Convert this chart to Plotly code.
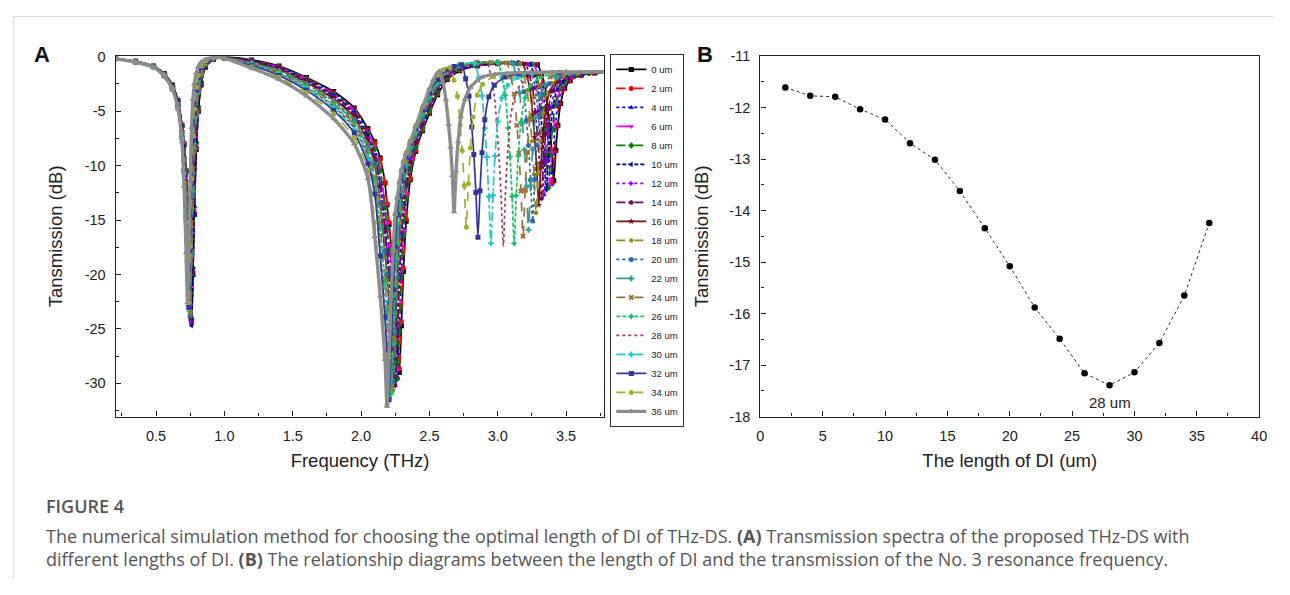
import plotly.graph_objects as go

# ---------------- data ----------------
LENGTHS_UM = [0, 2, 4, 6, 8, 10, 12, 14, 16, 18, 20, 22, 24, 26, 28, 30, 32, 34, 36]

# shared frequency grid (THz) for the first two resonances
F_LOW = [0.20, 0.35, 0.48, 0.56, 0.62, 0.66,
         0.69, 0.705, 0.72, 0.73, 0.74, 0.75, 0.76, 0.77, 0.78, 0.795, 0.81, 0.83, 0.86, 0.92, 1.00,
         1.20, 1.40, 1.60, 1.80, 1.95, 2.05,
         2.10, 2.14, 2.175, 2.19, 2.205, 2.22, 2.235, 2.25, 2.265, 2.28, 2.295, 2.31, 2.33, 2.36, 2.40, 2.45, 2.50]

T_LOW_00 = [-0.15, -0.42, -0.85, -1.55, -2.6, -4.0,
            -6.3, -8.0, -10.5, -12.5, -15.5, -19.5, -24.3, -20.0, -14.5, -8.5, -5.0, -2.6, -1.0, -0.25, -0.05,
            -0.30, -0.85, -1.90, -3.20, -4.70, -6.60,
            -7.8, -9.3, -11.6, -13.6, -15.4, -17.4, -19.4, -22.0, -25.2, -29.0, -24.7, -19.7, -15.1, -11.3, -8.7, -6.8, -5.2]
T_LOW_02 = [-0.15, -0.42, -0.85, -1.56, -2.62, -4.02,
            -6.3, -8.0, -10.4, -12.4, -15.4, -19.3, -24.0, -19.7, -14.3, -8.4, -4.9, -2.5, -1.0, -0.25, -0.06,
            -0.32, -0.89, -1.95, -3.28, -4.80, -6.74,
            -7.9, -9.4, -11.6, -13.5, -15.2, -17.2, -19.2, -21.7, -24.9, -28.6, -24.3, -19.4, -14.9, -11.2, -8.6, -6.7, -5.1]
T_LOW_04 = [-0.15, -0.42, -0.86, -1.56, -2.62, -4.03,
            -6.35, -8.1, -10.6, -12.6, -15.7, -19.8, -24.6, -20.1, -14.4, -8.3, -4.8, -2.5, -0.95, -0.24, -0.07,
            -0.35, -0.93, -2.00, -3.35, -4.90, -6.88,
            -8.4, -10.4, -13.8, -15.6, -17.6, -19.7, -22.3, -25.6, -29.4, -25.0, -20.0, -16.3, -12.9, -10.3, -8.2, -6.5, -4.9]
T_LOW_06 = [-0.15, -0.43, -0.86, -1.57, -2.63, -4.05,
            -6.4, -8.1, -10.6, -12.5, -15.6, -19.6, -24.4, -19.8, -14.1, -8.1, -4.7, -2.4, -0.9, -0.23, -0.07,
            -0.37, -0.96, -2.05, -3.43, -5.00, -7.01,
            -8.3, -10.3, -13.6, -15.3, -17.3, -19.3, -21.9, -25.1, -28.8, -24.5, -19.6, -16.0, -12.7, -10.1, -8.1, -6.4, -4.8]
T_LOW_08 = [-0.16, -0.43, -0.87, -1.58, -2.65, -4.08,
            -6.45, -8.2, -10.6, -12.5, -15.5, -19.4, -24.1, -19.4, -13.8, -7.9, -4.6, -2.3, -0.9, -0.22, -0.08,
            -0.39, -1.00, -2.10, -3.50, -5.10, -7.15,
            -8.5, -10.5, -13.9, -15.7, -17.8, -19.8, -22.5, -25.8, -29.6, -25.2, -20.1, -16.4, -13.0, -10.4, -8.3, -6.5, -4.9]
T_LOW_10 = [-0.16, -0.43, -0.87, -1.59, -2.67, -4.1,
            -6.5, -8.3, -10.8, -12.8, -15.9, -19.9, -24.7, -19.6, -13.6, -7.7, -4.4, -2.2, -0.85, -0.21, -0.08,
            -0.41, -1.04, -2.16, -3.58, -5.20, -7.29,
            -9.1, -11.7, -15.8, -17.9, -20.0, -22.7, -26.0, -29.9, -25.4, -20.3, -16.6, -13.8, -11.7, -9.6, -7.8, -6.1, -4.5]
T_LOW_12 = [-0.16, -0.44, -0.88, -1.62, -2.75, -4.3,
            -6.8, -9.2, -12.3, -15.3, -19.3, -24.2, -19.0, -13.5, -9.5, -6.0, -3.6, -1.9, -0.8, -0.2, -0.08,
            -0.44, -1.09, -2.22, -3.68, -5.33, -7.47,
            -9.1, -11.6, -15.5, -17.6, -19.6, -22.3, -25.5, -29.3, -24.9, -19.9, -16.3, -13.5, -11.4, -9.4, -7.6, -6.0, -4.4]
T_LOW_14 = [-0.16, -0.44, -0.88, -1.63, -2.76, -4.32,
            -6.85, -9.25, -12.3, -15.2, -19.1, -23.9, -18.8, -13.2, -9.2, -5.8, -3.5, -1.8, -0.75, -0.19, -0.09,
            -0.47, -1.14, -2.29, -3.78, -5.46, -7.66,
            -9.3, -11.9, -16.0, -18.1, -20.2, -23.0, -26.3, -30.2, -25.7, -20.5, -16.8, -13.9, -11.8, -9.7, -7.9, -6.2, -4.5]
T_LOW_16 = [-0.16, -0.45, -0.89, -1.64, -2.78, -4.35,
            -6.9, -9.3, -12.4, -15.4, -19.3, -24.0, -18.7, -13.0, -9.0, -5.6, -3.4, -1.75, -0.72, -0.18, -0.09,
            -0.50, -1.19, -2.36, -3.88, -5.59, -7.84,
            -9.9, -13.5, -18.0, -20.1, -22.8, -26.1, -30.0, -25.5, -20.4, -16.7, -13.8, -12.2, -10.4, -8.7, -7.2, -5.6, -4.0]
T_LOW_18 = [-0.17, -0.45, -0.89, -1.65, -2.8, -4.38,
            -6.95, -9.35, -12.4, -15.3, -19.1, -23.6, -18.4, -12.8, -8.8, -5.5, -3.3, -1.7, -0.7, -0.17, -0.1,
            -0.53, -1.24, -2.43, -3.98, -5.72, -8.03,
            -10.1, -13.8, -18.4, -20.5, -23.3, -26.6, -30.6, -26.0, -20.8, -17.0, -14.1, -12.4, -10.6, -8.9, -7.3, -5.7, -4.1]
T_LOW_20 = [-0.17, -0.45, -0.9, -1.66, -2.82, -4.4,
            -7.0, -9.4, -12.5, -15.5, -19.3, -23.8, -18.3, -12.6, -8.6, -5.3, -3.2, -1.65, -0.68, -0.16, -0.1,
            -0.56, -1.29, -2.50, -4.08, -5.86, -8.21,
            -9.8, -13.4, -17.9, -20.0, -22.6, -25.9, -29.8, -25.3, -20.3, -16.5, -13.7, -12.1, -10.3, -8.6, -7.2, -5.6, -4.0]
T_LOW_22 = [-0.17, -0.46, -0.9, -1.67, -2.84, -4.42,
            -7.05, -9.5, -12.6, -15.5, -19.2, -23.4, -18.0, -12.4, -8.4, -5.1, -3.0, -1.55, -0.64, -0.15, -0.11,
            -0.60, -1.35, -2.58, -4.20, -6.02, -8.44,
            -11.2, -15.7, -20.6, -23.4, -26.8, -30.8, -26.2, -20.9, -17.1, -14.2, -12.5, -11.1, -9.9, -8.3, -6.9, -5.2, -3.7]
T_LOW_24 = [-0.17, -0.46, -0.91, -1.68, -2.86, -4.45,
            -7.1, -9.55, -12.7, -15.7, -19.4, -23.5, -17.9, -12.2, -8.2, -5.0, -2.9, -1.5, -0.62, -0.14, -0.11,
            -0.64, -1.41, -2.67, -4.33, -6.19, -8.67,
            -11.1, -15.5, -20.4, -23.1, -26.4, -30.4, -25.8, -20.7, -16.9, -14.0, -12.3, -10.9, -9.7, -8.2, -6.8, -5.2, -3.6]
T_LOW_26 = [-0.18, -0.47, -0.92, -1.7, -2.9, -4.55,
            -7.3, -10.3, -14.6, -18.8, -23.2, -18.2, -12.3, -8.3, -5.7, -3.45, -2.1, -1.15, -0.52, -0.11, -0.12,
            -0.68, -1.48, -2.75, -4.45, -6.35, -8.90,
            -11.3, -15.8, -20.8, -23.6, -27.0, -31.0, -26.4, -21.1, -17.2, -14.3, -12.6, -11.2, -10.0, -8.4, -7.0, -5.3, -3.7]
T_LOW_28 = [-0.18, -0.47, -0.92, -1.71, -2.92, -4.58,
            -7.35, -10.35, -14.7, -18.9, -23.3, -18.1, -12.1, -8.1, -5.6, -3.4, -2.05, -1.1, -0.5, -0.1, -0.13,
            -0.72, -1.55, -2.85, -4.60, -6.55, -9.18,
            -12.3, -17.8, -23.3, -26.7, -30.7, -26.1, -20.9, -17.0, -14.1, -12.4, -11.1, -10.1, -8.9, -7.8, -6.4, -4.8, -3.2]
T_LOW_30 = [-0.18, -0.48, -0.93, -1.72, -2.94, -4.6,
            -7.4, -10.4, -14.7, -18.8, -22.9, -17.9, -11.9, -7.9, -5.4, -3.3, -2.0, -1.05, -0.48, -0.1, -0.13,
            -0.77, -1.63, -2.95, -4.75, -6.75, -9.45,
            -12.5, -18.2, -23.8, -27.2, -31.3, -26.6, -21.3, -17.4, -14.4, -12.7, -11.3, -10.3, -9.1, -8.0, -6.6, -4.9, -3.3]
T_LOW_32 = [-0.19, -0.48, -0.93, -1.74, -2.96, -4.65,
            -7.45, -10.5, -14.9, -19.0, -23.0, -17.8, -11.7, -7.7, -5.2, -3.1, -1.9, -1.0, -0.45, -0.09, -0.14,
            -0.83, -1.73, -3.09, -4.95, -7.01, -9.82,
            -12.6, -18.3, -23.9, -27.4, -31.5, -26.8, -21.4, -17.5, -14.5, -12.8, -11.4, -10.4, -9.2, -8.0, -6.6, -4.9, -3.3]
T_LOW_34 = [-0.19, -0.49, -0.94, -1.76, -2.98, -4.7,
            -7.5, -10.7, -15.2, -19.2, -22.6, -17.4, -11.2, -7.3, -4.8, -2.8, -1.7, -0.85, -0.4, -0.08, -0.14,
            -0.92, -1.88, -3.29, -5.25, -7.41, -10.37,
            -15.2, -21.2, -27.4, -31.9, -27.3, -21.8, -17.6, -14.4, -12.9, -11.5, -10.4, -9.6, -8.8, -7.7, -6.3, -4.6, -3.0]
T_LOW_36 = [-0.20, -0.50, -0.95, -1.8, -3.0, -4.8,
            -7.8, -11.9, -18.0, -22.6, -17.5, -11.5, -6.5, -3.9, -2.5, -1.5, -0.9, -0.5, -0.25, -0.05, -0.15,
            -1.05, -2.10, -3.60, -5.70, -8.00, -11.20,
            -16.5, -22.0, -27.8, -32.1, -27.6, -22.0, -17.8, -14.5, -13.0, -11.6, -10.5, -9.7, -8.9, -7.8, -6.4, -4.6, -3.0]

# third resonance region: (frequency THz, transmission dB) per length
HI_00 = [(2.56, -3.5), (2.63, -2.1), (2.72, -1.3), (2.85, -0.85), (3.00, -0.65), (3.15, -0.6), (3.29, -0.75),
         (3.32, -1.60), (3.345, -2.67), (3.365, -4.58), (3.38, -6.29), (3.395, -8.63), (3.41, -11.40),
         (3.425, -8.60), (3.44, -6.30), (3.46, -4.30), (3.49, -2.90), (3.53, -2.20), (3.61, -1.70), (3.71, -1.50), (3.80, -1.40)]
HI_02 = [(2.56, -3.4), (2.63, -2.0), (2.72, -1.25), (2.85, -0.8), (3.00, -0.62), (3.15, -0.58), (3.28, -0.72),
         (3.31, -1.59), (3.335, -2.68), (3.355, -4.64), (3.37, -6.38), (3.385, -8.78), (3.40, -11.61),
         (3.415, -8.75), (3.43, -6.40), (3.45, -4.36), (3.48, -2.93), (3.52, -2.22), (3.60, -1.71), (3.70, -1.50), (3.80, -1.40)]
HI_04 = [(2.56, -3.3), (2.63, -1.95), (2.72, -1.2), (2.85, -0.8), (3.00, -0.6), (3.15, -0.57), (3.27, -0.72),
         (3.30, -1.60), (3.325, -2.71), (3.345, -4.70), (3.36, -6.47), (3.375, -8.90), (3.39, -11.77),
         (3.405, -8.87), (3.42, -6.48), (3.44, -4.41), (3.47, -2.96), (3.51, -2.23), (3.59, -1.71), (3.69, -1.50), (3.80, -1.40)]
HI_06 = [(2.56, -3.2), (2.63, -1.9), (2.72, -1.15), (2.85, -0.78), (3.00, -0.6), (3.15, -0.6), (3.26, -0.7),
         (3.29, -1.59), (3.315, -2.70), (3.335, -4.69), (3.35, -6.47), (3.365, -8.91), (3.38, -11.79),
         (3.395, -8.88), (3.41, -6.49), (3.43, -4.41), (3.46, -2.96), (3.50, -2.23), (3.58, -1.71), (3.68, -1.50), (3.80, -1.40)]
HI_08 = [(2.56, -3.25), (2.63, -1.9), (2.72, -1.15), (2.85, -0.77), (3.00, -0.6), (3.15, -0.6), (3.25, -0.7),
         (3.28, -1.61), (3.305, -2.74), (3.325, -4.78), (3.34, -6.59), (3.355, -9.08), (3.37, -12.03),
         (3.385, -9.05), (3.40, -6.61), (3.42, -4.48), (3.45, -2.99), (3.49, -2.25), (3.57, -1.72), (3.67, -1.51), (3.80, -1.40)]
HI_10 = [(2.56, -3.0), (2.63, -1.75), (2.72, -1.05), (2.85, -0.7), (3.00, -0.56), (3.15, -0.56), (3.235, -0.68),
         (3.265, -1.60), (3.29, -2.76), (3.31, -4.84), (3.325, -6.69), (3.34, -9.23), (3.355, -12.23),
         (3.37, -9.20), (3.385, -6.71), (3.405, -4.54), (3.435, -3.02), (3.475, -2.27), (3.555, -1.72), (3.655, -1.51), (3.80, -1.40)]
HI_12 = [(2.56, -2.9), (2.63, -1.7), (2.72, -1.0), (2.85, -0.68), (3.00, -0.55), (3.12, -0.56), (3.22, -0.68),
         (3.25, -1.64), (3.275, -2.84), (3.295, -5.00), (3.31, -6.93), (3.325, -9.57), (3.34, -12.69),
         (3.355, -9.53), (3.37, -6.93), (3.39, -4.67), (3.42, -3.09), (3.46, -2.30), (3.54, -1.74), (3.64, -1.51), (3.80, -1.40)]
HI_14 = [(2.56, -2.95), (2.63, -1.7), (2.72, -1.0), (2.85, -0.68), (3.00, -0.55), (3.10, -0.56), (3.20, -0.66),
         (3.23, -1.65), (3.255, -2.88), (3.275, -5.11), (3.29, -7.08), (3.305, -9.80), (3.32, -13.01),
         (3.335, -9.76), (3.35, -7.09), (3.37, -4.77), (3.40, -3.14), (3.44, -2.33), (3.52, -1.75), (3.62, -1.52), (3.80, -1.40)]
HI_16 = [(2.56, -2.6), (2.63, -1.5), (2.72, -0.9), (2.85, -0.62), (3.00, -0.52), (3.10, -0.55), (3.18, -0.65),
         (3.21, -1.69), (3.235, -2.98), (3.255, -5.32), (3.27, -7.39), (3.285, -10.25), (3.30, -13.62),
         (3.315, -10.20), (3.33, -7.39), (3.35, -4.94), (3.38, -3.23), (3.42, -2.38), (3.50, -1.77), (3.60, -1.52), (3.80, -1.40)]
HI_18 = [(2.56, -2.65), (2.63, -1.5), (2.72, -0.9), (2.85, -0.6), (3.00, -0.52), (3.08, -0.55), (3.16, -0.63),
         (3.19, -1.73), (3.215, -3.10), (3.235, -5.57), (3.25, -7.76), (3.265, -10.78), (3.28, -14.34),
         (3.295, -10.72), (3.31, -7.74), (3.33, -5.15), (3.36, -3.34), (3.40, -2.44), (3.48, -1.79), (3.58, -1.53), (3.80, -1.40)]
HI_20 = [(2.56, -2.6), (2.63, -1.45), (2.72, -0.88), (2.85, -0.6), (3.00, -0.52), (3.135, -0.62),
         (3.165, -1.78), (3.19, -3.22), (3.21, -5.83), (3.225, -8.14), (3.24, -11.32), (3.255, -15.08),
         (3.27, -11.25), (3.285, -8.10), (3.305, -5.37), (3.335, -3.45), (3.375, -2.49), (3.455, -1.81), (3.555, -1.54), (3.80, -1.40)]
HI_22 = [(2.56, -2.4), (2.63, -1.35), (2.72, -0.8), (2.85, -0.55), (3.00, -0.5), (3.105, -0.6),
         (3.135, -1.82), (3.16, -3.35), (3.18, -6.10), (3.195, -8.55), (3.21, -11.91), (3.225, -15.88),
         (3.24, -11.83), (3.255, -8.50), (3.275, -5.60), (3.305, -3.57), (3.345, -2.56), (3.425, -1.83), (3.525, -1.54), (3.80, -1.40)]
HI_24 = [(2.56, -2.3), (2.63, -1.3), (2.72, -0.78), (2.85, -0.54), (2.95, -0.52), (3.065, -0.58),
         (3.095, -1.85), (3.12, -3.44), (3.14, -6.31), (3.155, -8.85), (3.17, -12.35), (3.185, -16.49),
         (3.20, -12.26), (3.215, -8.79), (3.235, -5.78), (3.265, -3.66), (3.305, -2.61), (3.385, -1.85), (3.485, -1.55), (3.80, -1.40)]
HI_26 = [(2.56, -2.35), (2.63, -1.3), (2.72, -0.78), (2.85, -0.55), (3.00, -0.56),
         (3.03, -1.89), (3.055, -3.55), (3.075, -6.54), (3.09, -9.19), (3.105, -12.84), (3.12, -17.16),
         (3.135, -12.75), (3.15, -9.12), (3.17, -5.97), (3.20, -3.76), (3.24, -2.66), (3.32, -1.87), (3.42, -1.56), (3.60, -1.45), (3.80, -1.40)]
HI_28 = [(2.56, -2.05), (2.63, -1.2), (2.72, -0.75), (2.82, -0.56), (2.92, -0.56),
         (2.95, -1.91), (2.975, -3.59), (2.995, -6.62), (3.01, -9.31), (3.025, -13.01), (3.04, -17.39),
         (3.055, -12.91), (3.07, -9.24), (3.09, -6.04), (3.12, -3.80), (3.16, -2.68), (3.24, -1.88), (3.34, -1.56), (3.55, -1.45), (3.80, -1.40)]
HI_30 = [(2.56, -2.1), (2.63, -1.2), (2.72, -0.75), (2.83, -0.62),
         (2.86, -1.94), (2.885, -3.59), (2.905, -6.57), (2.92, -9.21), (2.935, -12.84), (2.95, -17.14),
         (2.965, -12.73), (2.98, -9.11), (3.00, -5.96), (3.03, -3.76), (3.07, -2.66), (3.15, -1.87), (3.25, -1.56), (3.50, -1.45), (3.80, -1.40)]
HI_32 = [(2.56, -2.1), (2.63, -1.2), (2.68, -0.9), (2.735, -0.75),
         (2.765, -2.02), (2.79, -3.60), (2.81, -6.45), (2.825, -8.98), (2.84, -12.46), (2.855, -16.57),
         (2.87, -12.32), (2.885, -8.83), (2.905, -5.80), (2.935, -3.68), (2.975, -2.61), (3.055, -1.86), (3.155, -1.55), (3.45, -1.44), (3.80, -1.40)]
HI_34 = [(2.56, -1.7), (2.60, -1.2), (2.65, -1.0),
         (2.68, -2.17), (2.705, -3.64), (2.725, -6.27), (2.74, -8.62), (2.755, -11.84), (2.77, -15.65),
         (2.785, -11.66), (2.80, -8.38), (2.82, -5.53), (2.85, -3.54), (2.89, -2.54), (2.97, -1.83), (3.07, -1.54), (3.40, -1.43), (3.80, -1.40)]
HI_36 = [(2.53, -2.1), (2.56, -1.45), (2.575, -1.34),
         (2.60, -2.4), (2.62, -3.9), (2.64, -6.2), (2.655, -8.3), (2.668, -10.9), (2.68, -14.24),
         (2.695, -10.5), (2.71, -7.8), (2.73, -5.5), (2.76, -3.9), (2.80, -2.8), (2.88, -1.9), (2.98, -1.6), (3.20, -1.45), (3.50, -1.40), (3.80, -1.38)]

T_LOW = [T_LOW_00, T_LOW_02, T_LOW_04, T_LOW_06, T_LOW_08, T_LOW_10, T_LOW_12, T_LOW_14, T_LOW_16, T_LOW_18,
         T_LOW_20, T_LOW_22, T_LOW_24, T_LOW_26, T_LOW_28, T_LOW_30, T_LOW_32, T_LOW_34, T_LOW_36]
HI = [HI_00, HI_02, HI_04, HI_06, HI_08, HI_10, HI_12, HI_14, HI_16, HI_18,
      HI_20, HI_22, HI_24, HI_26, HI_28, HI_30, HI_32, HI_34, HI_36]

# panel B: transmission of resonance No. 3 versus DI length
B_LENGTH_UM = [2, 4, 6, 8, 10, 12, 14, 16, 18, 20, 22, 24, 26, 28, 30, 32, 34, 36]
B_TRANSMISSION_DB = [-11.61, -11.77, -11.79, -12.03, -12.23, -12.69, -13.01, -13.62, -14.34,
                     -15.08, -15.88, -16.49, -17.16, -17.39, -17.14, -16.57, -15.65, -14.24]
B_MIN_LABEL = "28 um"

A_X_TICKS = [0.5, 1.0, 1.5, 2.0, 2.5, 3.0, 3.5]
A_Y_TICKS = [0, -5, -10, -15, -20, -25, -30]
B_X_TICKS = [0, 5, 10, 15, 20, 25, 30, 35, 40]
B_Y_TICKS = [-11, -12, -13, -14, -15, -16, -17, -18]

# ---------------- styles ----------------
COLORS = ["#000000", "#ff0000", "#0000ff", "#ff00ff", "#008000", "#000080", "#8000ff", "#6b0a5a",
          "#7b1010", "#8c8c1a", "#2f6aa6", "#339999", "#9b7030", "#14c46a", "#b03060", "#22c8c8",
          "#34349a", "#9ab22a", "#8c8c8c"]
DASHES = ["solid", "dash", "dot", "longdash", "dash", "4px,2px", "dot", "dashdot", "solid", "dash",
          "dot", "longdash", "dash", "4px,2px", "dot", "dashdot", "solid", "dash", "solid"]
SYMBOLS = ["square", "circle", "triangle-up", "triangle-down", "diamond", "triangle-left", "triangle-right",
           "hexagon", "star", "pentagon", "circle", "cross", "x", "star-diamond", None, "cross",
           "square", "circle", "triangle-up"]

FONT = "Liberation Sans, Arial, sans-serif"
CAP_FONT = "Open Sans, Noto Sans, sans-serif"
INK = "#222222"

# the page keeps its default 8 px body margin; the figure fills the rest of the window exactly
PAGE_W, PAGE_H, OFF = 1290, 595, 8
W, H = PAGE_W - 2 * OFF, PAGE_H - 2 * OFF

fig = go.Figure()

for i, L in enumerate(LENGTHS_UM):
    xs = list(F_LOW) + [p[0] for p in HI[i]]
    ys = list(T_LOW[i]) + [p[1] for p in HI[i]]
    is_gray = (i == len(LENGTHS_UM) - 1)
    sym = SYMBOLS[i]
    fig.add_trace(go.Scatter(
        x=xs, y=ys, name=f"{L} um",
        mode="lines" if sym is None else "lines+markers",
        line=dict(color=COLORS[i], dash=DASHES[i], width=3.4 if is_gray else 1.7,
                  shape="spline", smoothing=0.7),
        marker=dict(symbol=sym or "circle", size=6 if is_gray else 5, color=COLORS[i]),
        legendgroup=f"g{i}",
        xaxis="x", yaxis="y",
    ))

fig.add_trace(go.Scatter(
    x=B_LENGTH_UM, y=B_TRANSMISSION_DB, mode="lines+markers", showlegend=False,
    line=dict(color="#333333", width=1, dash="dot"),
    marker=dict(symbol="circle", size=6.5, color="#000000"),
    xaxis="x2", yaxis="y2",
))

imin = B_TRANSMISSION_DB.index(min(B_TRANSMISSION_DB))


def px_x(p):
    """page pixel x -> paper fraction"""
    return (p - OFF) / W


def px_y(p):
    """page pixel y (from top) -> paper fraction"""
    return 1 - (p - OFF) / H


ydom = [px_y(420), px_y(49.3)]
axis_common = dict(showline=True, linecolor=INK, linewidth=1.3, mirror=True, ticks="inside",
                   ticklen=5, tickwidth=1.2, tickcolor=INK, showgrid=False, zeroline=False,
                   ticklabelstandoff=6,
                   tickfont=dict(family=FONT, size=14.5, color=INK),
                   title_font=dict(family=FONT, size=18.5, color=INK))

fig.update_layout(
    width=W, height=H,
    margin=dict(l=0, r=0, t=0, b=0),
    paper_bgcolor="white", plot_bgcolor="white",
    showlegend=True,
    legend=dict(x=px_x(612), y=px_y(47), xanchor="left", yanchor="top",
                bordercolor="#333333", borderwidth=1, bgcolor="white",
                font=dict(family=FONT, size=9.5, color=INK), tracegroupgap=0,
                itemwidth=30),
    xaxis=dict(domain=[px_x(112.7), px_x(606)], range=[0.205, 3.78],
               tickvals=A_X_TICKS, ticktext=[f"{v:.1f}" for v in A_X_TICKS],
               minor=dict(dtick=0.25, tick0=0, ticks="inside", ticklen=3, tickcolor=INK),
               title=dict(text="Frequency (THz)", standoff=10), anchor="y", **axis_common),
    yaxis=dict(domain=ydom, range=[-33.05, 0.05],
               tickvals=A_Y_TICKS, ticktext=[str(v) for v in A_Y_TICKS],
               minor=dict(dtick=2.5, tick0=0, ticks="inside", ticklen=3, tickcolor=INK),
               title=dict(text="Tansmission (dB)", standoff=17), anchor="x", **axis_common),
    xaxis2=dict(domain=[px_x(763.5), px_x(1267)], range=[0, 40],
                tickvals=B_X_TICKS, ticktext=[str(v) for v in B_X_TICKS],
                minor=dict(dtick=2.5, tick0=0, ticks="inside", ticklen=3, tickcolor=INK),
                title=dict(text="The length of DI (um)", standoff=10), anchor="y2", **axis_common),
    yaxis2=dict(domain=ydom, range=[-18, -11],
                tickvals=B_Y_TICKS, ticktext=[str(v) for v in B_Y_TICKS],
                minor=dict(dtick=0.5, tick0=0, ticks="inside", ticklen=3, tickcolor=INK),
                title=dict(text="Tansmission (dB)", standoff=15), anchor="x2", **axis_common),
)

annotations = [
    dict(text="<b>A</b>", x=px_x(38), y=px_y(48), xref="paper", yref="paper", showarrow=False,
         xanchor="center", yanchor="middle", font=dict(family=FONT, size=22, color="#111111")),
    dict(text="<b>B</b>", x=px_x(708), y=px_y(48), xref="paper", yref="paper", showarrow=False,
         xanchor="center", yanchor="middle", font=dict(family=FONT, size=22, color="#111111")),
    dict(text=B_MIN_LABEL, x=B_LENGTH_UM[imin], y=B_TRANSMISSION_DB[imin], xref="x2", yref="y2",
         xanchor="center", yanchor="middle",
         yshift=-17, showarrow=False, font=dict(family=FONT, size=15, color=INK)),
    dict(text="FIGURE 4", x=px_x(40), y=px_y(512), xref="paper", yref="paper",
         xanchor="left", yanchor="middle",
         showarrow=False, font=dict(family=CAP_FONT, size=18, color="#555555", weight=600)),
    dict(text="The numerical simulation method for choosing the optimal length of DI of THz-DS. <b>(A)</b> "
              "Transmission spectra of the proposed THz-DS with",
         x=px_x(40), y=px_y(543), xref="paper", yref="paper", xanchor="left", yanchor="middle",
         showarrow=False, font=dict(family=CAP_FONT, size=18, color="#555555")),
    dict(text="different lengths of DI. <b>(B)</b> The relationship diagrams between the length of DI and the "
              "transmission of the No. 3 resonance frequency.",
         x=px_x(40), y=px_y(566), xref="paper", yref="paper", xanchor="left", yanchor="middle",
         showarrow=False, font=dict(family=CAP_FONT, size=18, color="#555555")),
]
fig.update_layout(annotations=annotations)

fig.update_layout(shapes=[
    dict(type="line", xref="paper", yref="paper", x0=0.001, x1=1, y0=0.999, y1=0.999,
         line=dict(color="#d9d9d9", width=1)),
    dict(type="line", xref="paper", yref="paper", x0=0.001, x1=0.001, y0=0, y1=0.999,
         line=dict(color="#d9d9d9", width=1)),
])

fig.write_html("out.html", config={"displayModeBar": False})
